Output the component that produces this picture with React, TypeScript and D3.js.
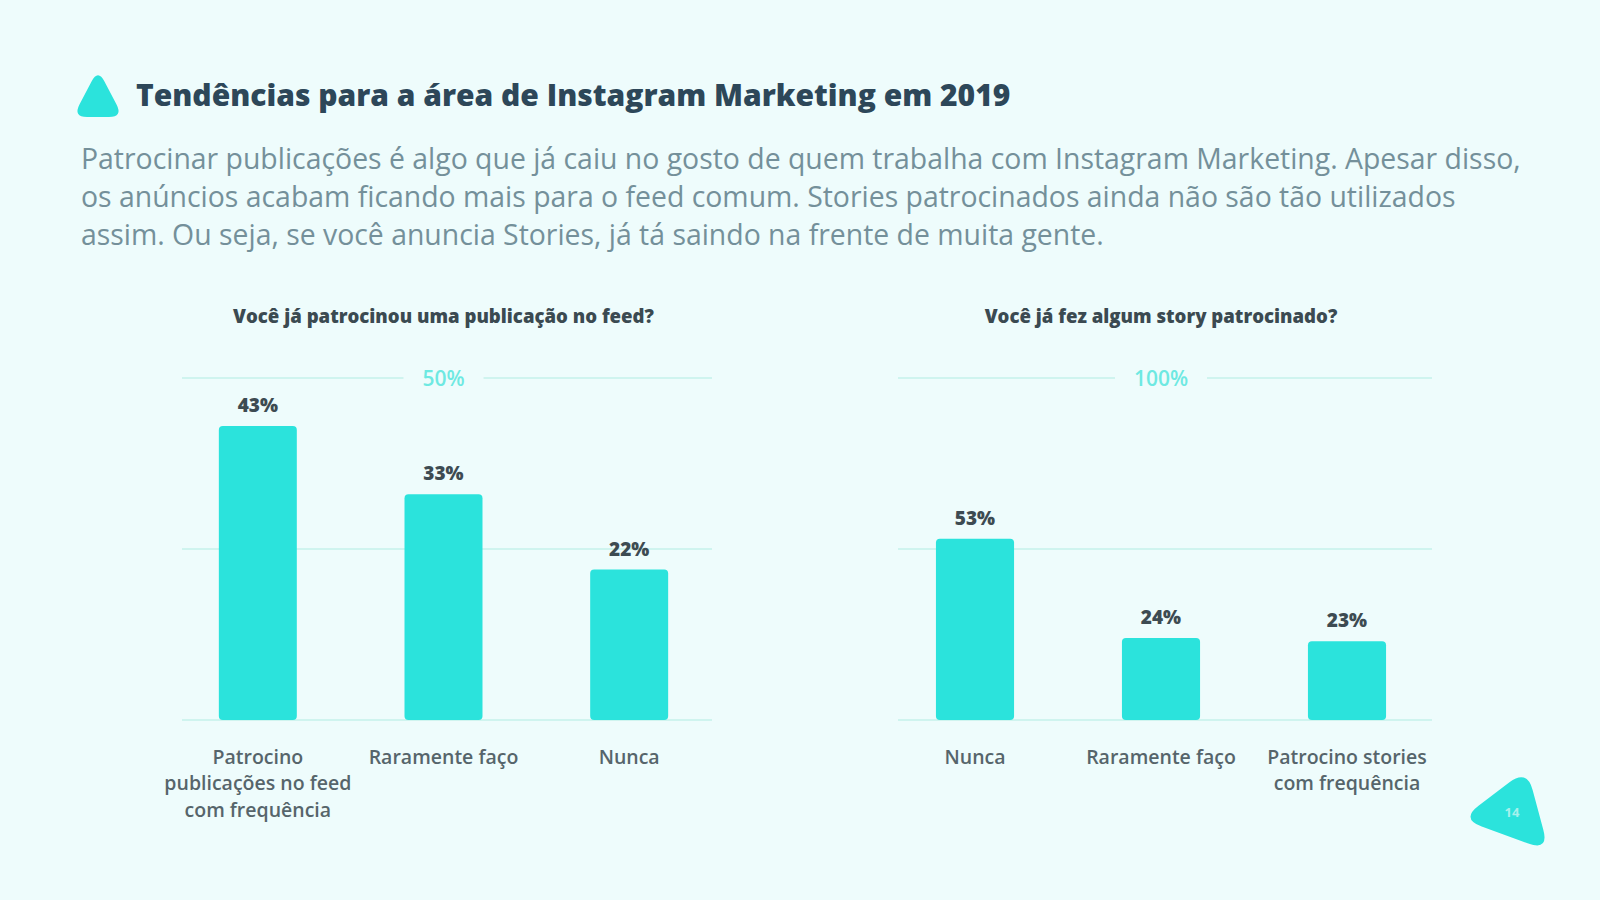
import * as d3 from "d3";

// chart data
const feedTitle = "Você já patrocinou uma publicação no feed?";
const feedCategories = ["Patrocino\npublicações no feed\ncom frequência", "Raramente faço", "Nunca"];
const feedValues = [43, 33, 22];
const feedTicks = [0, 25, 50];

const storyTitle = "Você já fez algum story patrocinado?";
const storyCategories = ["Nunca", "Raramente faço", "Patrocino stories\ncom frequência"];
const storyValues = [53, 24, 23];
const storyTicks = [0, 50, 100];

const pageTitle = "Tendências para a área de Instagram Marketing em 2019";
const introLines = [
    "Patrocinar publicações é algo que já caiu no gosto de quem trabalha com Instagram Marketing. Apesar disso,",
    "os anúncios acabam ficando mais para o feed comum. Stories patrocinados ainda não são tão utilizados",
    "assim. Ou seja, se você anuncia Stories, já tá saindo na frente de muita gente.",
];
const pageNumber = "14";

const colors = {
    bg: "#eefcfc",
    bar: "#2be3dc",
    grid: "#cff4ef",
    gridLabel: "#6ee9e2",
    title: "#2d4759",
    text: "#74909a",
    chartTitle: "#3b4a51",
    value: "#3d4b52",
    category: "#56656b",
};
const font = "'Open Sans', 'Noto Sans', sans-serif";

// rounded triangle through three vertices
const roundedTriangle = (pts: [number, number][], r: number) => {
    const path = d3.path();
    pts.forEach((p, i) => {
        const prev = pts[(i + pts.length - 1) % pts.length];
        const next = pts[(i + 1) % pts.length];
        const toward = (a: [number, number], b: [number, number]) => {
            const dx = b[0] - a[0], dy = b[1] - a[1];
            const len = Math.hypot(dx, dy);
            return [a[0] + (dx / len) * r, a[1] + (dy / len) * r];
        };
        const a = toward(p, prev);
        const b = toward(p, next);
        if (i === 0) path.moveTo(a[0], a[1]);
        else path.lineTo(a[0], a[1]);
        path.quadraticCurveTo(p[0], p[1], b[0], b[1]);
    });
    path.closePath();
    return path.toString();
};

interface BarChartProps {
    title: string;
    categories: string[];
    values: number[];
    ticks: number[];
    x0: number;
    x1: number;
    gridX0: number;
    gridX1: number;
}

const BarChart = ({ title, categories, values, ticks, x0, x1, gridX0, gridX1 }: BarChartProps) => {
    const top = 378;
    const bottom = 720;
    const x = d3.scaleBand<string>()
        .domain(categories)
        .range([x0, x1])
        .paddingInner(0.58)
        .paddingOuter(0.29);
    const y = d3.scaleLinear()
        .domain([0, d3.max(ticks) as number])
        .range([bottom, top]);
    const cx = (x0 + x1) / 2;
    const maxTick = d3.max(ticks) as number;

    return (
        <g>
            <text x={cx} y={315} textAnchor="middle" dominantBaseline="central"
                  fontFamily={font} fontWeight={800} fontSize={18.6} fill={colors.chartTitle}>
                {title}
            </text>
            {ticks.map(t => {
                const yy = y(t);
                if (t === maxTick) {
                    const label = `${t}%`;
                    const half = 22 + label.length * 6;
                    return (
                        <g key={t}>
                            <line x1={gridX0} x2={cx - half} y1={yy} y2={yy} stroke={colors.grid} strokeWidth={2}/>
                            <line x1={cx + half} x2={gridX1} y1={yy} y2={yy} stroke={colors.grid} strokeWidth={2}/>
                            <text x={cx} y={yy} textAnchor="middle" dominantBaseline="central"
                                  fontFamily={font} fontWeight={600} fontSize={21} fill={colors.gridLabel}>
                                {label}
                            </text>
                        </g>
                    );
                }
                return <line key={t} x1={gridX0} x2={gridX1} y1={yy} y2={yy} stroke={colors.grid} strokeWidth={2}/>;
            })}
            {categories.map((c, i) => {
                const bx = x(c) as number;
                const by = y(values[i]);
                const mid = bx + x.bandwidth() / 2;
                return (
                    <g key={c}>
                        <rect x={bx} y={by} width={x.bandwidth()} height={bottom - by} rx={4} fill={colors.bar}/>
                        <text x={mid} y={by - 21} textAnchor="middle" dominantBaseline="central"
                              fontFamily={font} fontWeight={800} fontSize={19} fill={colors.value}>
                            {values[i]}%
                        </text>
                        {c.split("\n").map((line, j) => (
                            <text key={j} x={mid} y={756 + j * 26.5} textAnchor="middle" dominantBaseline="central"
                                  fontFamily={font} fontWeight={600} fontSize={19.5} fill={colors.category}>
                                {line}
                            </text>
                        ))}
                    </g>
                );
            })}
        </g>
    );
};

export default function App() {
    return (
        <svg width={1600} height={900} style={{ position: "absolute", left: 0, top: 0, display: "block" }}>
            <rect width={1600} height={900} fill={colors.bg}/>
            <path d={roundedTriangle([[98, 69], [123, 117], [73, 117]], 14)} fill={colors.bar}/>
            <text x={136} y={94} dominantBaseline="central" fontFamily={font} fontWeight={800}
                  fontSize={30} fill={colors.title}>
                {pageTitle}
            </text>
            {introLines.map((line, i) => (
                <text key={i} x={81} y={158 + i * 38} dominantBaseline="central" fontFamily={font}
                      fontSize={28.4} fill={colors.text}>
                    {line}
                </text>
            ))}
            <BarChart title={feedTitle} categories={feedCategories} values={feedValues} ticks={feedTicks}
                      x0={165} x1={722} gridX0={182} gridX1={712}/>
            <BarChart title={storyTitle} categories={storyCategories} values={storyValues} ticks={storyTicks}
                      x0={882} x1={1440} gridX0={898} gridX1={1432}/>
            <path d={roundedTriangle([[1527, 769], [1549, 851], [1461, 819]], 22)} fill={colors.bar}/>
            <text x={1512} y={812} textAnchor="middle" dominantBaseline="central" fontFamily={font}
                  fontWeight={700} fontSize={13} fill="#a6f1ec">
                {pageNumber}
            </text>
        </svg>
    );
}
